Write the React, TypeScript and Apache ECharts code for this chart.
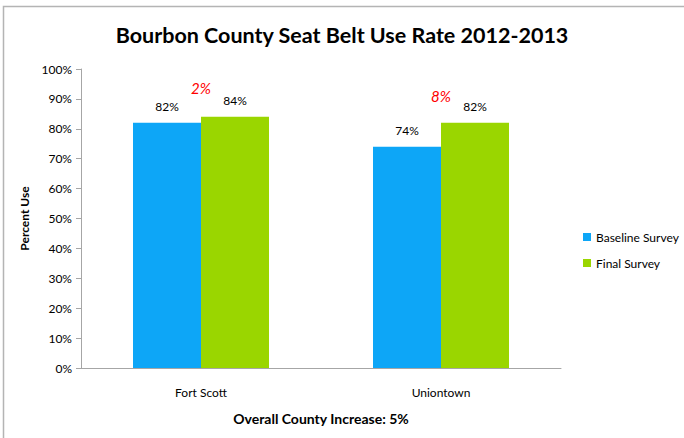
import React, { useEffect, useRef } from "react";
import * as echarts from "echarts";

const categories = ["Fort Scott", "Uniontown"];
const baseline = [82, 74];
const finalSurvey = [84, 82];
const increase = [2, 8];
const increaseLabelY = [93.6, 91];
const yTicks = [0, 10, 20, 30, 40, 50, 60, 70, 80, 90, 100];

const FONT = "Lato, 'Open Sans', sans-serif";

export default function App() {
  const ref = useRef<HTMLDivElement>(null);
  useEffect(() => {
    if (!ref.current) return;
    const chart = echarts.init(ref.current, undefined, { renderer: "svg" });
    chart.setOption({
      animation: false,
      backgroundColor: "#ffffff",
      textStyle: { fontFamily: FONT },
      title: {
        text: "Bourbon County Seat Belt Use Rate 2012-2013",
        left: "center",
        top: 19,
        textStyle: { fontFamily: FONT, fontSize: 21.5, fontWeight: "bold", color: "#000" },
      },
      graphic: [
        {
          type: "rect",
          shape: { x: 3.5, y: 6.5, width: 700, height: 450 },
          style: { fill: "none", stroke: "#b4b4b4", lineWidth: 1.5 },
          silent: true,
        },
      ],
      legend: {
        orient: "vertical",
        left: 578,
        top: 226,
        itemWidth: 8,
        itemHeight: 8,
        itemGap: 14,
        icon: "rect",
        textStyle: { fontFamily: FONT, fontSize: 12, color: "#000" },
        data: ["Baseline Survey", "Final Survey"],
      },
      grid: { left: 81, right: 123, top: 69, bottom: 70 },
      xAxis: {
        type: "category",
        data: categories,
        name: "Overall County Increase: 5%",
        nameLocation: "middle",
        nameGap: 43,
        nameTextStyle: { fontFamily: FONT, fontSize: 14, fontWeight: "bold", color: "#000" },
        axisLine: { lineStyle: { color: "#a6a6a6", width: 1 } },
        axisTick: { show: false },
        axisLabel: { fontFamily: FONT, fontSize: 12, color: "#000", margin: 18 },
      },
      yAxis: {
        type: "value",
        min: yTicks[0],
        max: yTicks[yTicks.length - 1],
        interval: 10,
        name: "Percent Use",
        nameLocation: "middle",
        nameGap: 50,
        nameTextStyle: { fontFamily: FONT, fontSize: 12, fontWeight: "bold", color: "#000" },
        axisLine: { show: true, lineStyle: { color: "#a6a6a6", width: 1 } },
        axisTick: { show: true, inside: false, length: 5, lineStyle: { color: "#a6a6a6" } },
        splitLine: { show: false },
        axisLabel: { fontFamily: FONT, fontSize: 12, color: "#000", margin: 9, formatter: "{value}%" },
      },
      series: [
        {
          name: "Baseline Survey",
          type: "bar",
          data: baseline,
          barWidth: 68,
          barGap: "0%",
          itemStyle: { color: "#0DA6F7" },
          label: {
            show: true,
            position: "top",
            distance: 10,
            formatter: "{c}%",
            fontFamily: FONT,
            fontSize: 12,
            color: "#000",
          },
        },
        {
          name: "Final Survey",
          type: "bar",
          data: finalSurvey,
          barWidth: 68,
          barGap: "0%",
          itemStyle: { color: "#9AD600" },
          label: {
            show: true,
            position: "top",
            distance: 10,
            formatter: "{c}%",
            fontFamily: FONT,
            fontSize: 12,
            color: "#000",
          },
        },
        {
          name: "Increase",
          type: "scatter",
          symbolSize: 1,
          itemStyle: { opacity: 0 },
          data: increaseLabelY,
          label: {
            show: true,
            position: "inside",
            opacity: 1,
            formatter: (p: any) => increase[p.dataIndex] + "%",
            fontFamily: FONT,
            fontSize: 15,
            fontStyle: "italic",
            color: "#FF0000",
          },
          silent: true,
        },
      ],
    });
    return () => chart.dispose();
  }, []);
  return (
    <div
      ref={ref}
      style={{ position: "fixed", left: 0, top: 0, width: 684, height: 438 }}
    />
  );
}
